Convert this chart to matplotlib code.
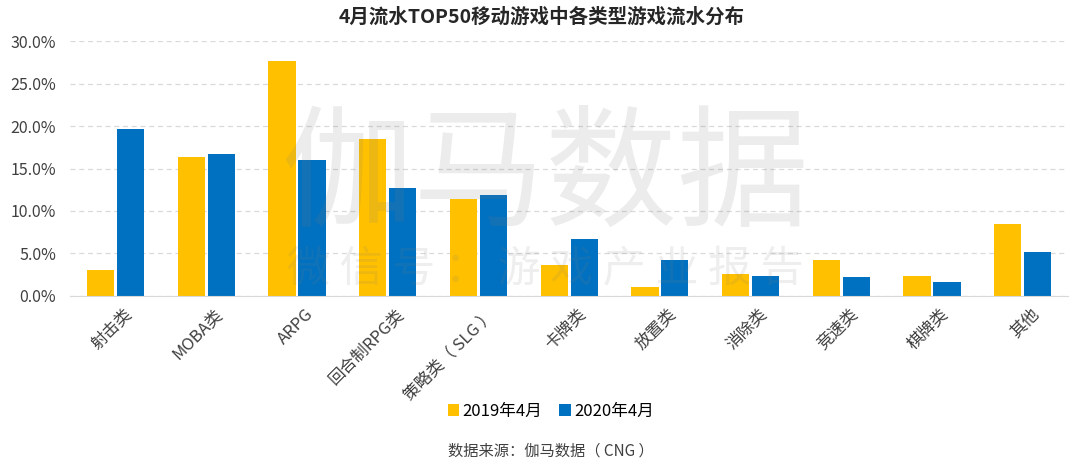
import numpy as np
import matplotlib
matplotlib.use("Agg")
import matplotlib.pyplot as plt
from matplotlib.ticker import FuncFormatter
from matplotlib.transforms import ScaledTranslation

plt.rcParams['font.family'] = ['Noto Sans CJK SC', 'DejaVu Sans']

categories = ['射击类', 'MOBA类', 'ARPG', '回合制RPG类', '策略类（ SLG ）', '卡牌类',
              '放置类', '消除类', '竞速类', '棋牌类', '其他']
share_2019 = [3.1, 16.3, 27.7, 18.5, 11.4, 3.7, 1.1, 2.6, 4.2, 2.4, 8.5]
share_2020 = [19.6, 16.7, 16.0, 12.7, 11.9, 6.7, 4.2, 2.4, 2.2, 1.7, 5.2]
series_names = ['2019年4月', '2020年4月']
yticks = [0, 5, 10, 15, 20, 25, 30]

fig = plt.figure(figsize=(10.8, 4.72), dpi=100)
ax = fig.add_axes([0.065, 0.373, 0.924, 0.54])

x = np.arange(len(categories))
w = 0.30
ax.bar(x - 0.165, share_2019, w, color='#FFC000', label=series_names[0], zorder=2)
ax.bar(x + 0.165, share_2020, w, color='#0070C0', label=series_names[1], zorder=2)

ax.set_xlim(-0.5, len(categories) - 0.5)
ax.set_ylim(0, 30)
ax.set_yticks(yticks)
ax.yaxis.set_major_formatter(FuncFormatter(lambda v, p: f'{v:.1f}%'))
ax.grid(axis='y', linestyle=(0, (4, 3)), color='#D9D9D9', linewidth=0.9, zorder=0)
for s in ['top', 'right', 'left']:
    ax.spines[s].set_visible(False)
ax.spines['bottom'].set_color('#D9D9D9')
ax.tick_params(axis='both', length=0, labelsize=11.5, colors='#404040')
ax.tick_params(axis='y', pad=10)
ax.tick_params(axis='x', pad=7)
ax.set_xticks(x)
ax.set_xticklabels(categories, rotation=45, ha='right', rotation_mode='anchor', fontsize=12)
for lbl in ax.get_xticklabels():
    lbl.set_transform(lbl.get_transform() + ScaledTranslation(0.08, 0, fig.dpi_scale_trans))

# watermark
fig.text(0.505, 0.622, '伽马数据', fontsize=95, color='#808080', alpha=0.15,
         ha='center', va='center', zorder=10)
fig.text(0.505, 0.428, '微 信 号 ： 游 戏 产 业 报 告', fontsize=31, color='#808080', alpha=0.13,
         ha='center', va='center', zorder=10)

fig.suptitle('4月流水TOP50移动游戏中各类型游戏流水分布', x=0.502, y=0.985, fontsize=14,
             fontweight='bold', color='#262626')

fig.legend(loc='center', bbox_to_anchor=(0.51, 0.128), ncol=2, frameon=False,
           fontsize=12, handlelength=0.7, handleheight=0.7, handletextpad=0.2,
           columnspacing=1.0)
fig.text(0.51, 0.045, '数据来源：伽马数据（ CNG ）', ha='center', va='center',
         fontsize=11, color='#404040')

fig.savefig('out.png', dpi=100)
